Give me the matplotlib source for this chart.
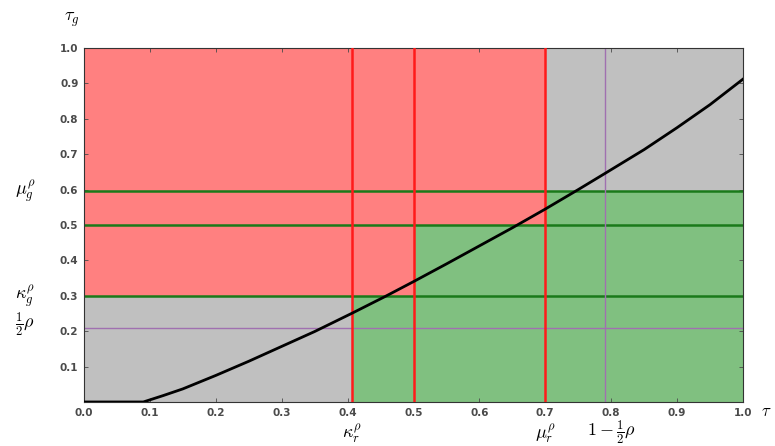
import matplotlib
matplotlib.use("Agg")
import matplotlib.pyplot as plt

plt.rcParams['mathtext.fontset'] = 'cm'
plt.rcParams['font.family'] = ['DejaVu Sans']

# parameters
rho = 0.42
kappa_r = 0.407
mu_r = 0.70
kappa_g = 0.30
mu_g = 0.595
mid = 0.50

# curve points
curve_x = [0.0, 0.09, 0.12, 0.15, 0.2, 0.25, 0.3, 0.35, 0.407, 0.457, 0.5, 0.55, 0.6,
           0.65, 0.7, 0.75, 0.79, 0.85, 0.9, 0.95, 1.0]
curve_y = [0.0, 0.0, 0.018, 0.037, 0.075, 0.115, 0.157, 0.199, 0.251, 0.298, 0.34,
           0.39, 0.441, 0.492, 0.545, 0.6, 0.645, 0.713, 0.775, 0.84, 0.912]

# regions: (x0, x1, y0, y1)
red_regions = [(0.0, mu_r, mid, 1.0), (0.0, mid, kappa_g, mid)]
green_regions = [(kappa_r, 1.0, 0.0, kappa_g), (mid, 1.0, kappa_g, mid), (mu_r, 1.0, mid, mu_g)]

xticks = [0.0, 0.1, 0.2, 0.3, 0.4, 0.5, 0.6, 0.7, 0.8, 0.9, 1.0]
yticks = [0.1, 0.2, 0.3, 0.4, 0.5, 0.6, 0.7, 0.8, 0.9, 1.0]

fig = plt.figure(figsize=(7.75, 4.46), dpi=100)
ax = fig.add_axes([0.1084, 0.0987, 0.8503, 0.7937])
ax.set_facecolor('#c0c0c0')
ax.set_xlim(0, 1)
ax.set_ylim(0, 1)

for (x0, x1, y0, y1) in red_regions:
    ax.fill_between([x0, x1], y0, y1, color='#ff8080', lw=0, zorder=1)
for (x0, x1, y0, y1) in green_regions:
    ax.fill_between([x0, x1], y0, y1, color='#80c080', lw=0, zorder=1)

for x in [kappa_r, mid, mu_r]:
    ax.axvline(x, color='#ff1a1a', lw=1.8, zorder=3)
for y in [kappa_g, mid, mu_g]:
    ax.axhline(y, color='#1a7a1a', lw=1.8, zorder=2)
ax.axvline(1 - rho / 2, color='#a070b0', lw=1.0, zorder=2)
ax.axhline(rho / 2, color='#a070b0', lw=1.0, zorder=2)

ax.plot(curve_x, curve_y, color='black', lw=2, zorder=4, solid_joinstyle='round')

ax.set_xticks(xticks)
ax.set_yticks(yticks)
ax.set_xticklabels([f"{v:.1f}" for v in xticks])
ax.set_yticklabels([f"{v:.1f}" for v in yticks])
ax.tick_params(direction='in', top=True, right=True, labelsize=7.5, colors='#4a4a4a',
               length=3, width=0.6, pad=4)
for lab in ax.get_xticklabels() + ax.get_yticklabels():
    lab.set_fontweight('semibold')
for s in ax.spines.values():
    s.set_color('#333333')
    s.set_linewidth(0.8)

# axis labels
ax.text(-0.018, 1.08, r'$\tau_g$', transform=ax.transAxes, fontsize=13, ha='center', va='center')
ax.text(1.035, -0.025, r'$\tau$', transform=ax.transAxes, fontsize=12, ha='center', va='center')

# special y labels
ax.text(-0.09, mu_g, r'$\mu_g^\rho$', transform=ax.get_yaxis_transform(), fontsize=13, ha='center', va='center')
ax.text(-0.09, kappa_g, r'$\kappa_g^\rho$', transform=ax.get_yaxis_transform(), fontsize=13, ha='center', va='center')
ax.text(-0.09, rho / 2 + 0.01, r'$\frac{1}{2}\rho$', transform=ax.get_yaxis_transform(), fontsize=13, ha='center', va='center')

# special x labels
ax.text(kappa_r, -0.09, r'$\kappa_r^\rho$', transform=ax.get_xaxis_transform(), fontsize=13, ha='center', va='center')
ax.text(mu_r, -0.09, r'$\mu_r^\rho$', transform=ax.get_xaxis_transform(), fontsize=13, ha='center', va='center')
ax.text(1 - rho / 2 + 0.01, -0.085, r'$1-\frac{1}{2}\rho$', transform=ax.get_xaxis_transform(), fontsize=13, ha='center', va='center')

fig.savefig('out.png', dpi=100)
